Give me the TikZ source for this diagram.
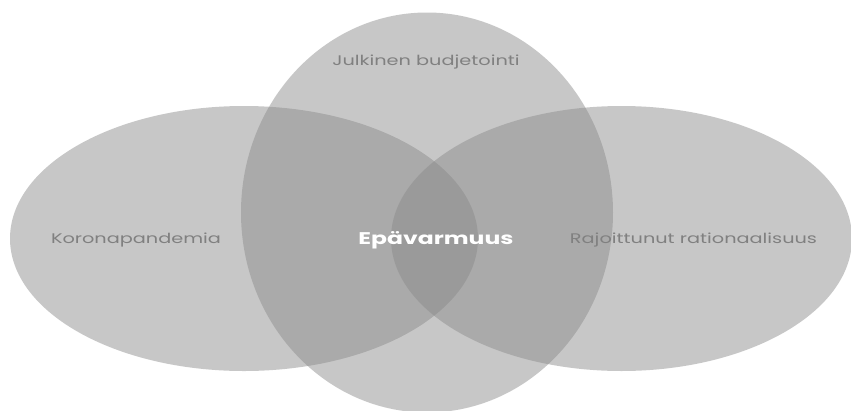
\documentclass[tikz,border=0pt]{standalone}
\usepackage{fontspec}
\setmainfont{Poppins}
\usetikzlibrary{shapes.geometric}
\definecolor{venngray}{RGB}{138,138,138}
\definecolor{labelgray}{RGB}{128,128,128}
\tikzset{
  blob/.style={ellipse, fill=venngray, fill opacity=0.47, draw=none, inner sep=0pt},
  lbl/.style={text=labelgray, inner sep=0pt, font=\fontsize{19.3}{19.3}\selectfont},
  centerlbl/.style={text=white, inner sep=0pt, font=\fontsize{23.5}{23.5}\selectfont\bfseries}
}
\newcommand{\squish}[1]{\scalebox{1}[0.72]{#1}}
\begin{document}
\begin{tikzpicture}[x=1pt,y=-1pt]
\useasboundingbox (0,0) rectangle (851,410);
\fill[white] (0,0) rectangle (851,410);
\node[blob, minimum width=468, minimum height=265] (left) at (244,238.5) {};
\node[blob, minimum width=372, minimum height=400] (top) at (427,212.5) {};
\node[blob, minimum width=461, minimum height=265] (right) at (621.5,238.5) {};
\node[lbl] (t1) at (426,62) {\squish{Julkinen budjetointi}};
\node[lbl] (t2) at (136,240) {\squish{Koronapandemia}};
\node[lbl] (t3) at (693.5,240) {\squish{Rajoittunut rationaalisuus}};
\node[centerlbl] (c) at (436,240) {\squish{Epävarmuus}};
\end{tikzpicture}
\end{document}
